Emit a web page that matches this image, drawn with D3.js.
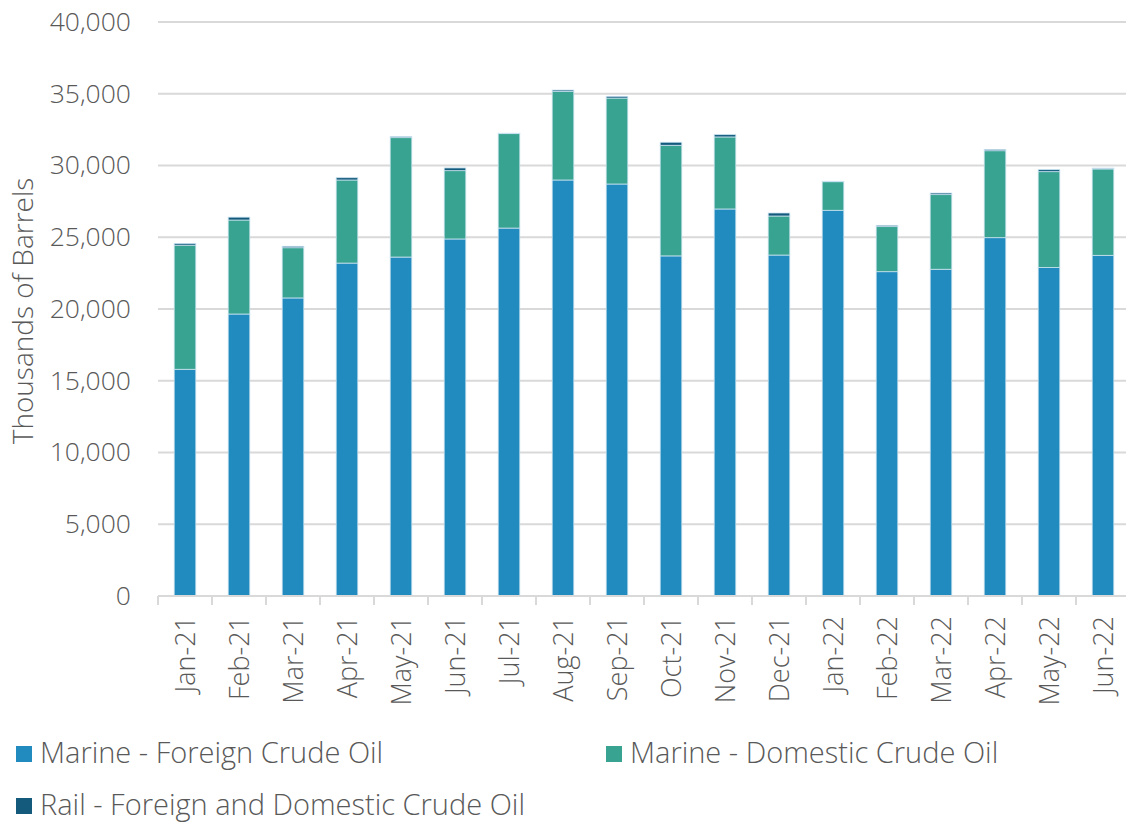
<!DOCTYPE html>
<html>
  <head>
    <style>
      html, body {
        padding: 0;
        margin: 0;
        overflow: hidden;
        background: #ffffff;
      }
      svg text {
        font-family: "Open Sans", Lato, sans-serif;
        font-weight: 300;
        fill: #595959;
      }
      .grid line {
        stroke: #d9d9d9;
        stroke-width: 2;
      }
    </style>
  </head>
  <body>
    <div id="chart"></div>
    <script src="https://cdnjs.cloudflare.com/ajax/libs/d3/7.8.5/d3.min.js"></script>
    <script>
      let months = ['Jan-21', 'Feb-21', 'Mar-21', 'Apr-21', 'May-21', 'Jun-21', 'Jul-21', 'Aug-21', 'Sep-21',
        'Oct-21', 'Nov-21', 'Dec-21', 'Jan-22', 'Feb-22', 'Mar-22', 'Apr-22', 'May-22', 'Jun-22']

      let marineForeign = [15800, 19650, 20770, 23200, 23620, 24880, 25640, 28990, 28710,
        23700, 26970, 23760, 26880, 22600, 22770, 24970, 22900, 23740]
      let marineDomestic = [8650, 6550, 3500, 5790, 8320, 4760, 6580, 6180, 5990,
        7710, 5020, 2720, 1990, 3140, 5200, 6060, 6670, 6020]
      let rail = [120, 200, 100, 160, 70, 190, 30, 90, 120,
        210, 160, 210, 30, 90, 110, 90, 140, 60]

      let seriesNames = ['Marine - Foreign Crude Oil', 'Marine - Domestic Crude Oil', 'Rail - Foreign and Domestic Crude Oil']
      let colors = ['#218bc0', '#37a390', '#135a7c']
      let yTicks = [0, 5000, 10000, 15000, 20000, 25000, 30000, 35000, 40000]

      let width = 1126
      let height = 824
      let margin = { top: 22, left: 158, right: 0, bottom: 228 }

      let svg = d3.select('#chart')
        .append('svg')
        .attr('width', width)
        .attr('height', height)

      let x = d3.scaleBand()
        .domain(months)
        .range([margin.left, 1130])
        .paddingInner(0.6)
        .paddingOuter(0.3)

      let y = d3.scaleLinear()
        .domain([0, 40000])
        .range([height - margin.bottom, margin.top])

      // gridlines
      svg.append('g')
        .attr('class', 'grid')
        .selectAll('line')
        .data(yTicks.slice(1))
        .enter().append('line')
        .attr('x1', margin.left)
        .attr('x2', 1130)
        .attr('y1', d => y(d))
        .attr('y2', d => y(d))

      // y axis labels
      let yAxis = svg.append('g')
        .attr('transform', 'translate(' + margin.left + ',0)')
        .call(d3.axisLeft(y).tickValues(yTicks).tickSize(0).tickPadding(27).tickFormat(d3.format(',')))
      yAxis.select('.domain').remove()
      yAxis.selectAll('text')
        .style('font-size', '26.5px')
        .attr('fill', '#595959')

      // stacked bars
      let table = months.map((m, i) => ({
        month: m,
        foreign: marineForeign[i],
        domestic: marineDomestic[i],
        rail: rail[i]
      }))
      let stack = d3.stack().keys(['foreign', 'domestic', 'rail'])(table)

      svg.append('g')
        .selectAll('g')
        .data(stack)
        .enter().append('g')
        .attr('fill', (d, i) => colors[i])
        .selectAll('rect')
        .data(d => d)
        .enter().append('rect')
        .attr('x', d => x(d.data.month))
        .attr('width', x.bandwidth())
        .attr('y', d => y(d[1]))
        .attr('height', d => y(d[0]) - y(d[1]))
        .attr('stroke', '#c9e2ef')
        .attr('stroke-width', 0.8)

      // x axis
      let baseY = y(0)
      svg.append('line')
        .attr('x1', margin.left)
        .attr('x2', 1130)
        .attr('y1', baseY)
        .attr('y2', baseY)
        .attr('stroke', '#d9d9d9')
        .attr('stroke-width', 2)

      let step = x.step()
      svg.append('g')
        .selectAll('line')
        .data(d3.range(months.length + 1))
        .enter().append('line')
        .attr('x1', i => margin.left + i * step)
        .attr('x2', i => margin.left + i * step)
        .attr('y1', baseY)
        .attr('y2', baseY + 9)
        .attr('stroke', '#d9d9d9')
        .attr('stroke-width', 2)

      svg.append('g')
        .selectAll('text')
        .data(months)
        .enter().append('text')
        .attr('transform', d => 'translate(' + (x(d) + x.bandwidth() / 2 + 10) + ',' + (baseY + 20) + ') rotate(-90)')
        .attr('text-anchor', 'end')
        .style('font-size', '27px')
        .text(d => d)

      // y axis title
      svg.append('text')
        .attr('transform', 'translate(33,' + (y(20000) + 2) + ') rotate(-90)')
        .attr('text-anchor', 'middle')
        .style('font-size', '28px')
        .text('Thousands of Barrels')

      // legend
      let legendPos = [[16, 754], [606, 754], [16, 806]]
      let legend = svg.append('g')
        .selectAll('g')
        .data(seriesNames)
        .enter().append('g')
        .attr('transform', (d, i) => 'translate(' + legendPos[i][0] + ',' + legendPos[i][1] + ')')
      legend.append('rect')
        .attr('x', 0)
        .attr('y', -8)
        .attr('width', 16)
        .attr('height', 16)
        .attr('fill', (d, i) => colors[i])
      legend.append('text')
        .attr('x', 24)
        .attr('y', 9)
        .style('font-size', '29px')
        .text(d => d)
    </script>
  </body>
</html>
